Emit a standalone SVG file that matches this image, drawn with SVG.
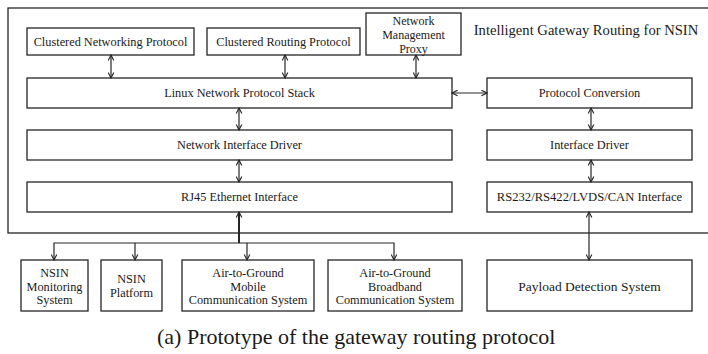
<svg xmlns="http://www.w3.org/2000/svg" width="708" height="354" viewBox="0 0 708 354">
<style>
.b{fill:#fff;stroke:#262626;stroke-width:1.3}
.t{font-family:"Liberation Serif","Times New Roman",serif;font-size:12.3px;fill:#1a1a1a;text-anchor:middle}
.c{fill:none;stroke:#262626;stroke-width:1.2}
</style>
<defs>
<marker id="ah" viewBox="0 0 10 10" refX="9" refY="5" markerWidth="7" markerHeight="7" orient="auto-start-reverse" markerUnits="userSpaceOnUse">
<path d="M1,1 L9,5 L1,9" fill="none" stroke="#262626" stroke-width="1.6"/>
</marker>
</defs>
<rect id="outer" x="8" y="8" width="710" height="225" fill="none" stroke="#262626" stroke-width="1.3"/>
<text x="586" y="35" class="t" style="font-size:14.6px">Intelligent Gateway Routing for NSIN</text>

<g id="cnp"><rect class="b" x="27" y="28" width="167" height="27"/><text class="t" x="110.5" y="45.5">Clustered Networking Protocol</text></g>
<g id="crp"><rect class="b" x="207" y="28" width="153" height="27"/><text class="t" x="283.5" y="45.5">Clustered Routing Protocol</text></g>
<g id="nmp"><rect class="b" x="366" y="13" width="95" height="42"/><text class="t" x="413.5" y="24.5" style="font-size:12px">Network</text><text class="t" x="413.5" y="38.5" style="font-size:12px">Management</text><text class="t" x="413.5" y="52.5" style="font-size:12px">Proxy</text></g>
<g id="lnps"><rect class="b" x="27" y="78" width="425" height="30"/><text class="t" x="239.5" y="97">Linux Network Protocol Stack</text></g>
<g id="pc"><rect class="b" x="487" y="78" width="205" height="30"/><text class="t" x="589.5" y="97">Protocol Conversion</text></g>
<g id="nid"><rect class="b" x="27" y="130" width="425" height="30"/><text class="t" x="239.5" y="149">Network Interface Driver</text></g>
<g id="id"><rect class="b" x="487" y="130" width="205" height="30"/><text class="t" x="589.5" y="149">Interface Driver</text></g>
<g id="rj45"><rect class="b" x="27" y="182" width="425" height="30"/><text class="t" x="239.5" y="201">RJ45 Ethernet Interface</text></g>
<g id="rs"><rect class="b" x="487" y="182" width="205" height="30"/><text class="t" x="589.5" y="201" style="font-size:12.6px">RS232/RS422/LVDS/CAN Interface</text></g>

<g id="nms"><rect class="b" x="21" y="260" width="67" height="51"/><text class="t" x="54.5" y="277">NSIN</text><text class="t" x="54.5" y="290.5">Monitoring</text><text class="t" x="54.5" y="304">System</text></g>
<g id="nsp"><rect class="b" x="101" y="260" width="61" height="51"/><text class="t" x="131.5" y="282.5">NSIN</text><text class="t" x="131.5" y="296.5">Platform</text></g>
<g id="agm"><rect class="b" x="182" y="260" width="132" height="51"/><text class="t" x="248" y="277">Air-to-Ground</text><text class="t" x="248" y="290.5">Mobile</text><text class="t" x="248" y="304">Communication System</text></g>
<g id="agb"><rect class="b" x="328" y="260" width="134" height="51"/><text class="t" x="395" y="277">Air-to-Ground</text><text class="t" x="395" y="290.5">Broadband</text><text class="t" x="395" y="304">Communication System</text></g>
<g id="pds"><rect class="b" x="487" y="260" width="205" height="51"/><text class="t" x="589.5" y="291" style="font-size:13.5px">Payload Detection System</text></g>

<g id="connectors">
<line class="c" x1="111" y1="55" x2="111" y2="78" marker-start="url(#ah)" marker-end="url(#ah)"/>
<line class="c" x1="285" y1="55" x2="285" y2="78" marker-start="url(#ah)" marker-end="url(#ah)"/>
<line class="c" x1="416" y1="55" x2="416" y2="78" marker-start="url(#ah)" marker-end="url(#ah)"/>
<line class="c" x1="452" y1="93" x2="487" y2="93" marker-start="url(#ah)" marker-end="url(#ah)"/>
<line class="c" x1="239" y1="108" x2="239" y2="130" marker-start="url(#ah)" marker-end="url(#ah)"/>
<line class="c" x1="239" y1="160" x2="239" y2="182" marker-start="url(#ah)" marker-end="url(#ah)"/>
<line class="c" x1="591" y1="108" x2="591" y2="130" marker-start="url(#ah)" marker-end="url(#ah)"/>
<line class="c" x1="591" y1="160" x2="591" y2="182" marker-start="url(#ah)" marker-end="url(#ah)"/>
<line class="c" x1="589" y1="212" x2="589" y2="260" marker-start="url(#ah)" marker-end="url(#ah)"/>
<line class="c" x1="239" y1="243" x2="239" y2="212" style="stroke-width:2" marker-end="url(#ah)"/>
<path class="c" d="M54,260 V243 H394 V260" marker-start="url(#ah)" marker-end="url(#ah)"/>
<line class="c" x1="135" y1="243" x2="135" y2="260" marker-end="url(#ah)"/>
<line class="c" x1="247" y1="243" x2="247" y2="260" marker-end="url(#ah)"/>
</g>

<text x="157" y="344" style="font-family:'Liberation Serif','Times New Roman',serif;font-size:22px;fill:#1a1a1a">(a) Prototype of the gateway routing protocol</text>
</svg>
